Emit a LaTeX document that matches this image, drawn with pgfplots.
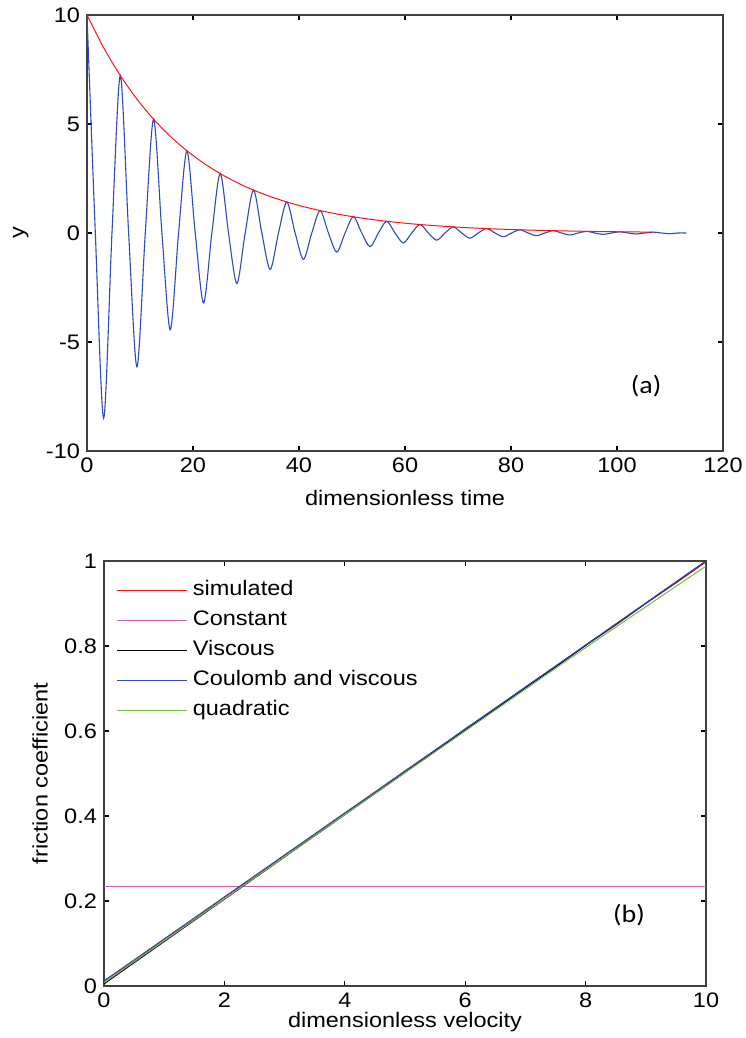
\documentclass[border=0pt]{standalone}
\usepackage{fontspec}
\setmainfont{Liberation Sans}[FakeStretch=1.12]
\newfontfamily\calibri{Carlito}[FakeStretch=1.12]
\usepackage{pgfplots}
\pgfplotsset{compat=1.18}
\definecolor{mblue}{RGB}{45,75,185}
\definecolor{mred}{RGB}{250,20,20}
\definecolor{mpink}{RGB}{200,95,180}
\definecolor{mgreen}{RGB}{110,190,70}
\pgfplotsset{
  mstyle/.style={
    scale only axis,
    tick align=inside,
    major tick length=2.5pt,
    axis line style={black!75, line width=0.8pt},
    tick style={black, line width=0.6pt},
    tick label style={font=\fontsize{10.5}{12}\selectfont},
    label style={font=\fontsize{10.5}{12}\selectfont},
    /pgf/number format/assume math mode=true,
    minor tick num=0,
  }
}
\begin{document}
\begin{tikzpicture}
\path[use as bounding box] (0,0) rectangle (372.5pt,519pt);
% ---------- (a) ----------
\begin{axis}[mstyle,
  at={(43.5pt,293.5pt)}, anchor=south west,
  width=318pt, height=218pt,
  xmin=0, xmax=120, ymin=-10, ymax=10,
  xtick={0,20,...,120}, ytick={-10,-5,0,5,10},
  xlabel={dimensionless time}, ylabel={y},
  xlabel style={at={(axis description cs:0.5,-0.108)}, anchor=center},
  ylabel style={at={(axis description cs:-0.104,0.5)}, anchor=center},
]
\addplot[mblue, line width=0.55pt, smooth] coordinates {
(0,10) (1.571,0) (3.142,-8.5) (4.712,0) (6.283,7.225) (7.854,0) (9.425,-6.141) (10.996,0)
(12.566,5.22) (14.137,0) (15.708,-4.437) (17.279,0) (18.85,3.771) (20.42,0) (21.991,-3.206)
(23.562,0) (25.133,2.725) (26.704,0) (28.274,-2.316) (29.845,0) (31.416,1.969) (32.987,0)
(34.558,-1.673) (36.128,0) (37.699,1.422) (39.27,0) (40.841,-1.209) (42.412,0) (43.982,1.028)
(45.553,0) (47.124,-0.874) (48.695,0) (50.265,0.743) (51.836,0) (53.407,-0.631) (54.978,0)
(56.549,0.536) (58.119,0) (59.69,-0.456) (61.261,0) (62.832,0.388) (64.403,0) (65.973,-0.33)
(67.544,0) (69.115,0.28) (70.686,0) (72.257,-0.238) (73.827,0) (75.398,0.202) (76.969,0)
(78.54,-0.172) (80.111,0) (81.681,0.146) (83.252,0) (84.823,-0.124) (86.394,0) (87.965,0.106)
(89.535,0) (91.106,-0.09) (92.677,0) (94.248,0.076) (95.819,0) (97.389,-0.065) (98.96,0)
(100.531,0.055) (102.102,0) (103.673,-0.047) (105.243,0) (106.814,0.04) (108.385,0)
(109.956,-0.034) (111.527,0) (113.1,0)
};
\addplot[mred, line width=0.5pt, smooth] coordinates {
(0,10) (3.142,8.5) (6.283,7.225) (9.425,6.141) (12.566,5.22) (15.708,4.437) (18.85,3.771)
(21.991,3.206) (25.133,2.725) (28.274,2.316) (31.416,1.969) (34.558,1.673) (37.699,1.422)
(40.841,1.209) (43.982,1.028) (47.124,0.874) (50.265,0.743) (53.407,0.631) (56.549,0.536)
(59.69,0.456) (62.832,0.388) (65.973,0.33) (69.115,0.28) (72.257,0.238) (75.398,0.202)
(78.54,0.172) (81.681,0.146) (84.823,0.124) (87.965,0.106) (91.106,0.09) (94.248,0.076)
(97.389,0.065) (100.531,0.055) (103.673,0.047) (106.814,0.04)
};
\node[font=\calibri\fontsize{12.5}{14}\selectfont] at (axis cs:105.5,-7.0) {(a)};
\end{axis}
% ---------- (b) ----------
\begin{axis}[mstyle,
  at={(52pt,26pt)}, anchor=south west,
  width=301pt, height=212.5pt,
  xmin=0, xmax=10, ymin=0, ymax=1,
  xtick={0,2,...,10}, ytick={0,0.2,0.4,0.6,0.8,1},
  xlabel={dimensionless velocity}, ylabel={friction coefficient},
  xlabel style={at={(axis description cs:0.5,-0.085)}, anchor=center},
  ylabel style={at={(axis description cs:-0.106,0.5)}, anchor=center},
  legend cell align=left,
  legend image code/.code={\draw[#1, line width=0.7pt] (0pt,0pt) -- (35pt,0pt);},
  legend style={draw=none, fill=none, inner sep=0pt,
    at={(axis description cs:0,1)}, anchor=north west, xshift=6pt, yshift=-7pt,
    font=\fontsize{10.5}{12}\selectfont, row sep=0pt,
    nodes={inner sep=2.5pt, text height=7.5pt, text depth=2.5pt}},
]
\addplot[mred, line width=0.5pt] coordinates {
(0,0.012) (0.5,0.058) (1,0.11) (1.5,0.157) (2,0.209) (2.5,0.256) (3,0.308) (3.5,0.355)
(4,0.407) (4.5,0.454) (5,0.506) (5.5,0.553) (6,0.605) (6.5,0.652) (7,0.703) (7.5,0.75)
(8,0.802) (8.5,0.849) (9,0.9) (9.5,0.948) (10,0.998)
};
\addlegendentry{simulated}
\addplot[mpink, line width=0.5pt] coordinates {(0,0.235) (10,0.235)};
\addlegendentry{Constant}
\addplot[black, line width=0.5pt] coordinates {(0,0.005) (10,1.0)};
\addlegendentry{Viscous}
\addplot[mblue, line width=0.5pt] coordinates {(0,0.012) (10,1.0)};
\addlegendentry{Coulomb and viscous}
\addplot[mgreen, line width=0.5pt, smooth] coordinates {(0,0.008) (2,0.205) (4,0.403) (6,0.6) (8,0.796) (10,0.988)};
\addlegendentry{quadratic}
\node[font=\calibri\fontsize{12.5}{14}\selectfont] at (axis cs:8.72,0.167) {(b)};
\end{axis}
\end{tikzpicture}
\end{document}
